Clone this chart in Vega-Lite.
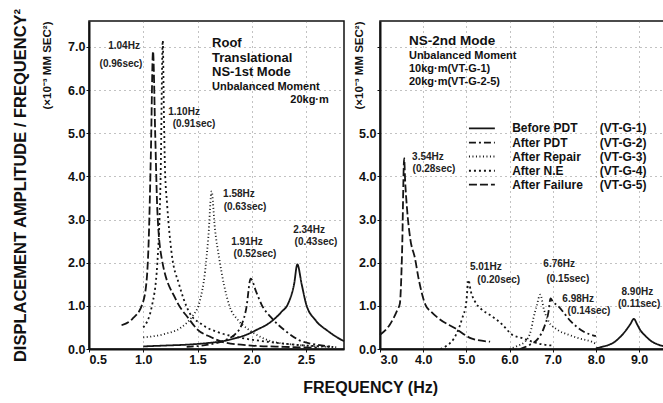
{
  "$schema": "https://vega.github.io/schema/vega-lite/v6.json",
  "background": "white",
  "padding": {"left": 11, "top": 7, "right": 0, "bottom": 0},
  "spacing": 3,
  "title": {"text": "FREQUENCY (Hz)", "orient": "bottom", "anchor": "middle", "font": "Liberation Sans", "fontSize": 16, "fontWeight": "bold", "color": "#111", "offset": 14, "dx": 30},
  "datasets": {
    "curves": [
      {"panel":"L","series":"Before PDT","f":1.0,"a":0.06},{"panel":"L","series":"Before PDT","f":1.2,"a":0.08},{"panel":"L","series":"Before PDT","f":1.4,"a":0.1},{"panel":"L","series":"Before PDT","f":1.6,"a":0.14},{"panel":"L","series":"Before PDT","f":1.73,"a":0.18},{"panel":"L","series":"Before PDT","f":1.85,"a":0.25},{"panel":"L","series":"Before PDT","f":1.95,"a":0.33},{"panel":"L","series":"Before PDT","f":2.05,"a":0.45},{"panel":"L","series":"Before PDT","f":2.16,"a":0.6},{"panel":"L","series":"Before PDT","f":2.27,"a":0.85},{"panel":"L","series":"Before PDT","f":2.34,"a":1.08},{"panel":"L","series":"Before PDT","f":2.39,"a":1.5},{"panel":"L","series":"Before PDT","f":2.42,"a":1.96},{"panel":"L","series":"Before PDT","f":2.46,"a":1.5},{"panel":"L","series":"Before PDT","f":2.5,"a":1.05},{"panel":"L","series":"Before PDT","f":2.59,"a":0.66},{"panel":"L","series":"Before PDT","f":2.7,"a":0.42},{"panel":"L","series":"Before PDT","f":2.78,"a":0.28},{"panel":"L","series":"Before PDT","f":2.85,"a":0.18},
      {"panel":"L","series":"After PDT","f":1.4,"a":0.05},{"panel":"L","series":"After PDT","f":1.6,"a":0.1},{"panel":"L","series":"After PDT","f":1.75,"a":0.2},{"panel":"L","series":"After PDT","f":1.85,"a":0.35},{"panel":"L","series":"After PDT","f":1.9,"a":0.52},{"panel":"L","series":"After PDT","f":1.95,"a":0.95},{"panel":"L","series":"After PDT","f":1.99,"a":1.63},{"panel":"L","series":"After PDT","f":2.04,"a":1.33},{"panel":"L","series":"After PDT","f":2.09,"a":1.03},{"panel":"L","series":"After PDT","f":2.19,"a":0.7},{"panel":"L","series":"After PDT","f":2.32,"a":0.4},{"panel":"L","series":"After PDT","f":2.44,"a":0.2},{"panel":"L","series":"After PDT","f":2.6,"a":0.1},{"panel":"L","series":"After PDT","f":2.75,"a":0.05},
      {"panel":"L","series":"After Repair","f":1.0,"a":0.27},{"panel":"L","series":"After Repair","f":1.2,"a":0.35},{"panel":"L","series":"After Repair","f":1.35,"a":0.5},{"panel":"L","series":"After Repair","f":1.45,"a":0.75},{"panel":"L","series":"After Repair","f":1.52,"a":1.1},{"panel":"L","series":"After Repair","f":1.57,"a":1.8},{"panel":"L","series":"After Repair","f":1.6,"a":2.6},{"panel":"L","series":"After Repair","f":1.63,"a":3.65},{"panel":"L","series":"After Repair","f":1.66,"a":2.8},{"panel":"L","series":"After Repair","f":1.7,"a":2.1},{"panel":"L","series":"After Repair","f":1.79,"a":1.03},{"panel":"L","series":"After Repair","f":1.88,"a":0.65},{"panel":"L","series":"After Repair","f":1.96,"a":0.47},{"panel":"L","series":"After Repair","f":2.08,"a":0.28},{"panel":"L","series":"After Repair","f":2.19,"a":0.17},{"panel":"L","series":"After Repair","f":2.4,"a":0.1},{"panel":"L","series":"After Repair","f":2.6,"a":0.06},{"panel":"L","series":"After Repair","f":2.8,"a":0.04},
      {"panel":"L","series":"After N.E","f":1.0,"a":0.5},{"panel":"L","series":"After N.E","f":1.08,"a":1.0},{"panel":"L","series":"After N.E","f":1.13,"a":2.0},{"panel":"L","series":"After N.E","f":1.16,"a":4.0},{"panel":"L","series":"After N.E","f":1.18,"a":7.15},{"panel":"L","series":"After N.E","f":1.19,"a":5.5},{"panel":"L","series":"After N.E","f":1.2,"a":4.2},{"panel":"L","series":"After N.E","f":1.22,"a":3.35},{"panel":"L","series":"After N.E","f":1.26,"a":2.25},{"panel":"L","series":"After N.E","f":1.33,"a":1.5},{"panel":"L","series":"After N.E","f":1.42,"a":0.87},{"panel":"L","series":"After N.E","f":1.54,"a":0.57},{"panel":"L","series":"After N.E","f":1.7,"a":0.38},{"panel":"L","series":"After N.E","f":1.9,"a":0.26},{"panel":"L","series":"After N.E","f":2.2,"a":0.15},{"panel":"L","series":"After N.E","f":2.5,"a":0.08},{"panel":"L","series":"After N.E","f":2.75,"a":0.05},
      {"panel":"L","series":"After Failure","f":0.8,"a":0.55},{"panel":"L","series":"After Failure","f":0.9,"a":0.7},{"panel":"L","series":"After Failure","f":0.99,"a":1.03},{"panel":"L","series":"After Failure","f":1.03,"a":1.56},{"panel":"L","series":"After Failure","f":1.05,"a":2.5},{"panel":"L","series":"After Failure","f":1.07,"a":4.5},{"panel":"L","series":"After Failure","f":1.09,"a":6.9},{"panel":"L","series":"After Failure","f":1.11,"a":5.0},{"panel":"L","series":"After Failure","f":1.13,"a":3.2},{"panel":"L","series":"After Failure","f":1.17,"a":2.1},{"panel":"L","series":"After Failure","f":1.3,"a":1.15},{"panel":"L","series":"After Failure","f":1.42,"a":0.7},{"panel":"L","series":"After Failure","f":1.5,"a":0.45},{"panel":"L","series":"After Failure","f":1.62,"a":0.28},{"panel":"L","series":"After Failure","f":1.75,"a":0.15},{"panel":"L","series":"After Failure","f":2.0,"a":0.08},{"panel":"L","series":"After Failure","f":2.3,"a":0.05},{"panel":"L","series":"After Failure","f":2.6,"a":0.03},
      {"panel":"R","series":"Before PDT","f":8.0,"a":0.02},{"panel":"R","series":"Before PDT","f":8.14,"a":0.05},{"panel":"R","series":"Before PDT","f":8.44,"a":0.17},{"panel":"R","series":"Before PDT","f":8.67,"a":0.4},{"panel":"R","series":"Before PDT","f":8.8,"a":0.58},{"panel":"R","series":"Before PDT","f":8.88,"a":0.7},{"panel":"R","series":"Before PDT","f":8.95,"a":0.58},{"panel":"R","series":"Before PDT","f":9.02,"a":0.45},{"panel":"R","series":"Before PDT","f":9.15,"a":0.3},{"panel":"R","series":"Before PDT","f":9.3,"a":0.17},{"panel":"R","series":"Before PDT","f":9.45,"a":0.1},{"panel":"R","series":"Before PDT","f":9.6,"a":0.06},
      {"panel":"R","series":"After PDT","f":6.24,"a":0.0},{"panel":"R","series":"After PDT","f":6.47,"a":0.1},{"panel":"R","series":"After PDT","f":6.66,"a":0.24},{"panel":"R","series":"After PDT","f":6.8,"a":0.5},{"panel":"R","series":"After PDT","f":6.9,"a":0.85},{"panel":"R","series":"After PDT","f":6.95,"a":1.17},{"panel":"R","series":"After PDT","f":7.0,"a":1.1},{"panel":"R","series":"After PDT","f":7.12,"a":1.0},{"panel":"R","series":"After PDT","f":7.42,"a":0.64},{"panel":"R","series":"After PDT","f":7.72,"a":0.4},{"panel":"R","series":"After PDT","f":8.0,"a":0.3},
      {"panel":"R","series":"After Repair","f":6.0,"a":0.0},{"panel":"R","series":"After Repair","f":6.2,"a":0.08},{"panel":"R","series":"After Repair","f":6.36,"a":0.17},{"panel":"R","series":"After Repair","f":6.5,"a":0.45},{"panel":"R","series":"After Repair","f":6.55,"a":0.7},{"panel":"R","series":"After Repair","f":6.63,"a":1.0},{"panel":"R","series":"After Repair","f":6.71,"a":1.26},{"panel":"R","series":"After Repair","f":6.8,"a":0.9},{"panel":"R","series":"After Repair","f":6.9,"a":0.65},{"panel":"R","series":"After Repair","f":7.1,"a":0.45},{"panel":"R","series":"After Repair","f":7.37,"a":0.33},{"panel":"R","series":"After Repair","f":7.6,"a":0.25},{"panel":"R","series":"After Repair","f":7.9,"a":0.17},{"panel":"R","series":"After Repair","f":8.0,"a":0.12},
      {"panel":"R","series":"After N.E","f":4.4,"a":0.0},{"panel":"R","series":"After N.E","f":4.55,"a":0.08},{"panel":"R","series":"After N.E","f":4.71,"a":0.24},{"panel":"R","series":"After N.E","f":4.9,"a":0.7},{"panel":"R","series":"After N.E","f":5.0,"a":1.1},{"panel":"R","series":"After N.E","f":5.05,"a":1.6},{"panel":"R","series":"After N.E","f":5.1,"a":1.35},{"panel":"R","series":"After N.E","f":5.2,"a":1.1},{"panel":"R","series":"After N.E","f":5.35,"a":0.92},{"panel":"R","series":"After N.E","f":5.53,"a":0.8},{"panel":"R","series":"After N.E","f":5.83,"a":0.57},{"panel":"R","series":"After N.E","f":6.06,"a":0.33},{"panel":"R","series":"After N.E","f":6.3,"a":0.25},{"panel":"R","series":"After N.E","f":6.52,"a":0.17},{"panel":"R","series":"After N.E","f":6.8,"a":0.1},{"panel":"R","series":"After N.E","f":7.0,"a":0.08},
      {"panel":"R","series":"After Failure","f":3.0,"a":0.33},{"panel":"R","series":"After Failure","f":3.23,"a":0.57},{"panel":"R","series":"After Failure","f":3.4,"a":0.9},{"panel":"R","series":"After Failure","f":3.46,"a":1.05},{"panel":"R","series":"After Failure","f":3.51,"a":2.2},{"panel":"R","series":"After Failure","f":3.56,"a":4.42},{"panel":"R","series":"After Failure","f":3.58,"a":3.95},{"panel":"R","series":"After Failure","f":3.63,"a":3.2},{"panel":"R","series":"After Failure","f":3.7,"a":2.56},{"panel":"R","series":"After Failure","f":3.81,"a":2.1},{"panel":"R","series":"After Failure","f":3.9,"a":1.6},{"panel":"R","series":"After Failure","f":4.05,"a":1.03},{"panel":"R","series":"After Failure","f":4.2,"a":0.85},{"panel":"R","series":"After Failure","f":4.37,"a":0.7},{"panel":"R","series":"After Failure","f":4.74,"a":0.48},{"panel":"R","series":"After Failure","f":5.13,"a":0.24},{"panel":"R","series":"After Failure","f":5.55,"a":0.17}
    ],
    "peaks": [
      {"panel":"L","f":0.823,"a":7.01,"text":"1.04Hz"},{"panel":"L","f":0.795,"a":6.61,"text":"(0.96sec)"},
      {"panel":"L","f":1.376,"a":5.5,"text":"1.10Hz"},{"panel":"L","f":1.468,"a":5.22,"text":"(0.91sec)"},
      {"panel":"L","f":1.882,"a":3.58,"text":"1.58Hz"},{"panel":"L","f":1.938,"a":3.3,"text":"(0.63sec)"},
      {"panel":"L","f":1.956,"a":2.49,"text":"1.91Hz"},{"panel":"L","f":2.03,"a":2.21,"text":"(0.52sec)"},
      {"panel":"L","f":2.528,"a":2.746,"text":"2.34Hz"},{"panel":"L","f":2.592,"a":2.468,"text":"(0.43sec)"},
      {"panel":"R","f":4.11,"a":4.46,"text":"3.54Hz"},{"panel":"R","f":4.25,"a":4.18,"text":"(0.28sec)"},
      {"panel":"R","f":5.45,"a":1.89,"text":"5.01Hz"},{"panel":"R","f":5.75,"a":1.61,"text":"(0.20sec)"},
      {"panel":"R","f":7.15,"a":1.96,"text":"6.76Hz"},{"panel":"R","f":7.35,"a":1.63,"text":"(0.15sec)"},
      {"panel":"R","f":7.59,"a":1.17,"text":"6.98Hz"},{"panel":"R","f":7.84,"a":0.892,"text":"(0.14sec)"},
      {"panel":"R","f":8.96,"a":1.32,"text":"8.90Hz"},{"panel":"R","f":9.0,"a":1.05,"text":"(0.11sec)"}
    ],
    "notes": [
      {"panel":"L","grp":"big","f":1.634,"a":7.1,"text":"Roof"},
      {"panel":"L","grp":"big","f":1.634,"a":6.75,"text":"Translational"},
      {"panel":"L","grp":"big","f":1.634,"a":6.41,"text":"NS-1st Mode"},
      {"panel":"L","grp":"small","f":1.634,"a":6.08,"text":"Unbalanced Moment"},
      {"panel":"L","grp":"smallr","f":2.71,"a":5.78,"text":"20kg·m"},
      {"panel":"R","grp":"big","f":3.67,"a":7.13,"text":"NS-2nd Mode"},
      {"panel":"R","grp":"small","f":3.67,"a":6.79,"text":"Unbalanced Moment"},
      {"panel":"R","grp":"small","f":3.67,"a":6.48,"text":"10kg·m(VT-G-1)"},
      {"panel":"R","grp":"small","f":3.67,"a":6.19,"text":"20kg·m(VT-G-2-5)"}
    ],
    "legend": [
      {"series":"Before PDT","a":5.11,"code":"(VT-G-1)"},
      {"series":"After PDT","a":4.78,"code":"(VT-G-2)"},
      {"series":"After Repair","a":4.46,"code":"(VT-G-3)"},
      {"series":"After N.E","a":4.13,"code":"(VT-G-4)"},
      {"series":"After Failure","a":3.81,"code":"(VT-G-5)"}
    ]
  },
  "hconcat": [
    {
      "width": 255,
      "height": 328,
      "resolve": {"axis": {"y": "independent"}},
      "layer": [
        {
          "data": {"name": "curves"},
          "transform": [{"filter": "datum.panel === 'L'"}],
          "mark": {"type": "line", "color": "#151515", "interpolate": "monotone"},
          "encoding": {
            "x": {"field": "f", "type": "quantitative", "scale": {"domain": [0.5, 2.85], "nice": false, "zero": false},
                  "axis": {"values": [0.5, 1.0, 1.5, 2.0, 2.5], "format": ".1f", "title": null}},
            "y": {"field": "a", "type": "quantitative", "scale": {"domain": [0, 7.6], "nice": false},
                  "axis": {"orient": "left", "values": [0, 1, 2, 3, 4, 5, 6, 7], "format": ".1f", "title": "DISPLACEMENT AMPLITUDE / FREQUENCY²", "titleFontSize": 16.5, "titlePadding": 39, "titleAnchor": "middle"}},
            "strokeDash": {"field": "series", "type": "nominal", "scale": {"domain": ["Before PDT", "After PDT", "After Repair", "After N.E", "After Failure"], "range": [[1, 0], [7, 3, 2, 3], [1, 2.5], [2, 3], [8, 3]]}, "legend": null},
            "strokeWidth": {"field": "series", "type": "ordinal", "scale": {"domain": ["Before PDT", "After PDT", "After Repair", "After N.E", "After Failure"], "range": [1.8, 1.8, 1.1, 2.2, 2.4]}, "legend": null}
          }
        },
        {
          "data": {"name": "peaks"},
          "transform": [{"filter": "datum.panel === 'L'"}],
          "mark": {"type": "text", "font": "Liberation Sans", "fontWeight": "bold", "fontSize": 10, "color": "#222", "align": "center", "baseline": "middle"},
          "encoding": {
            "x": {"field": "f", "type": "quantitative"},
            "y": {"field": "a", "type": "quantitative",
                  "axis": {"orient": "left", "labels": false, "ticks": false, "domain": false, "grid": false, "title": "(×10⁻³ MM SEC²)", "titleFontSize": 11.5, "titleAnchor": "end", "titlePadding": 37}},
            "text": {"field": "text"}
          }
        },
        {
          "data": {"name": "notes"},
          "transform": [{"filter": "datum.panel === 'L' && datum.grp === 'big'"}],
          "mark": {"type": "text", "font": "Liberation Sans", "fontWeight": "bold", "fontSize": 13, "color": "#111", "align": "left", "baseline": "middle"},
          "encoding": {"x": {"field": "f", "type": "quantitative"}, "y": {"field": "a", "type": "quantitative", "axis": null}, "text": {"field": "text"}}
        },
        {
          "data": {"name": "notes"},
          "transform": [{"filter": "datum.panel === 'L' && datum.grp === 'small'"}],
          "mark": {"type": "text", "font": "Liberation Sans", "fontWeight": "bold", "fontSize": 11, "color": "#111", "align": "left", "baseline": "middle"},
          "encoding": {"x": {"field": "f", "type": "quantitative"}, "y": {"field": "a", "type": "quantitative", "axis": null}, "text": {"field": "text"}}
        },
        {
          "data": {"name": "notes"},
          "transform": [{"filter": "datum.panel === 'L' && datum.grp === 'smallr'"}],
          "mark": {"type": "text", "font": "Liberation Sans", "fontWeight": "bold", "fontSize": 11, "color": "#111", "align": "right", "baseline": "middle"},
          "encoding": {"x": {"field": "f", "type": "quantitative"}, "y": {"field": "a", "type": "quantitative", "axis": null}, "text": {"field": "text"}}
        }
      ]
    },
    {
      "width": 285,
      "height": 328,
      "layer": [
        {
          "data": {"name": "curves"},
          "transform": [{"filter": "datum.panel === 'R'"}],
          "mark": {"type": "line", "color": "#151515", "interpolate": "monotone"},
          "encoding": {
            "x": {"field": "f", "type": "quantitative", "scale": {"domain": [3.0, 9.6], "nice": false, "zero": false},
                  "axis": {"values": [3, 4, 5, 6, 7, 8, 9], "format": ".1f", "title": null}},
            "y": {"field": "a", "type": "quantitative", "scale": {"domain": [0, 7.6], "nice": false},
                  "axis": {"values": [0, 1, 2, 3, 4, 5, 6, 7], "format": ".1f", "labelExpr": "datum.value > 5.5 ? '' : datum.label", "title": "(×10⁻³ MM SEC²)", "titleFontSize": 11.5, "titleAnchor": "end", "titlePadding": -6}},
            "strokeDash": {"field": "series", "type": "nominal", "scale": {"domain": ["Before PDT", "After PDT", "After Repair", "After N.E", "After Failure"], "range": [[1, 0], [7, 3, 2, 3], [1, 2.5], [2, 3], [8, 3]]}, "legend": null},
            "strokeWidth": {"field": "series", "type": "ordinal", "scale": {"domain": ["Before PDT", "After PDT", "After Repair", "After N.E", "After Failure"], "range": [1.8, 1.8, 1.1, 2.2, 2.4]}, "legend": null}
          }
        },
        {
          "data": {"name": "legend"},
          "mark": {"type": "rule", "color": "#151515"},
          "encoding": {
            "x": {"datum": 5.06, "type": "quantitative"},
            "x2": {"datum": 5.66},
            "y": {"field": "a", "type": "quantitative"},
            "strokeDash": {"field": "series", "type": "nominal", "legend": null},
            "strokeWidth": {"field": "series", "type": "ordinal", "legend": null}
          }
        },
        {
          "data": {"name": "legend"},
          "mark": {"type": "text", "font": "Liberation Sans", "fontWeight": "bold", "fontSize": 12, "color": "#111", "align": "left", "baseline": "middle"},
          "encoding": {"x": {"datum": 6.06, "type": "quantitative"}, "y": {"field": "a", "type": "quantitative"}, "text": {"field": "series"}}
        },
        {
          "data": {"name": "legend"},
          "mark": {"type": "text", "font": "Liberation Sans", "fontWeight": "bold", "fontSize": 12, "color": "#111", "align": "left", "baseline": "middle"},
          "encoding": {"x": {"datum": 8.09, "type": "quantitative"}, "y": {"field": "a", "type": "quantitative"}, "text": {"field": "code"}}
        },
        {
          "data": {"name": "peaks"},
          "transform": [{"filter": "datum.panel === 'R'"}],
          "mark": {"type": "text", "font": "Liberation Sans", "fontWeight": "bold", "fontSize": 10, "color": "#222", "align": "center", "baseline": "middle"},
          "encoding": {"x": {"field": "f", "type": "quantitative"}, "y": {"field": "a", "type": "quantitative"}, "text": {"field": "text"}}
        },
        {
          "data": {"name": "notes"},
          "transform": [{"filter": "datum.panel === 'R' && datum.grp === 'big'"}],
          "mark": {"type": "text", "font": "Liberation Sans", "fontWeight": "bold", "fontSize": 13.5, "color": "#111", "align": "left", "baseline": "middle"},
          "encoding": {"x": {"field": "f", "type": "quantitative"}, "y": {"field": "a", "type": "quantitative"}, "text": {"field": "text"}}
        },
        {
          "data": {"name": "notes"},
          "transform": [{"filter": "datum.panel === 'R' && datum.grp === 'small'"}],
          "mark": {"type": "text", "font": "Liberation Sans", "fontWeight": "bold", "fontSize": 11, "color": "#111", "align": "left", "baseline": "middle"},
          "encoding": {"x": {"field": "f", "type": "quantitative"}, "y": {"field": "a", "type": "quantitative"}, "text": {"field": "text"}}
        }
      ]
    }
  ],
  "config": {
    "view": {"stroke": "#111", "strokeWidth": 1.5},
    "axis": {
      "labelFont": "Liberation Sans", "labelFontWeight": "bold", "labelFontSize": 12.5, "labelColor": "#111",
      "titleFont": "Liberation Sans", "titleFontWeight": "bold", "titleColor": "#111",
      "domainColor": "#111", "domainWidth": 2,
      "tickColor": "#111", "tickSize": 3, "tickWidth": 1, "labelPadding": 1,
      "grid": true, "gridDash": [1, 4], "gridColor": "#666", "gridWidth": 1, "gridOpacity": 0.8
    }
  }
}
